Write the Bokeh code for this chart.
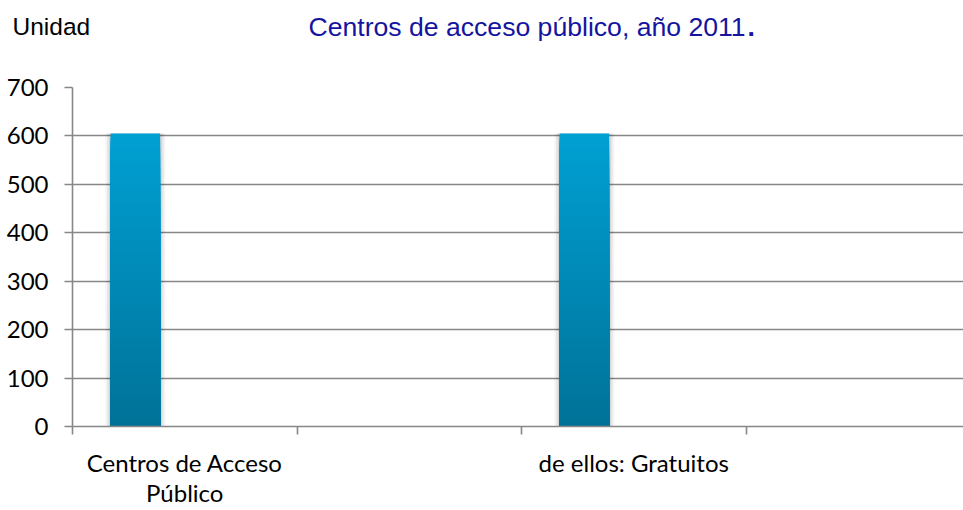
import numpy as np
from bokeh.plotting import figure
from bokeh.layouts import column
from bokeh.models import Range1d, FixedTicker
from bokeh.core.properties import value
from bokeh.embed import file_html
from bokeh.resources import INLINE

# ---- data ----
categories = ["Centros de Acceso\nPúblico", "", "de ellos: Gratuitos", ""]
values = [605, None, 605, None]
y_ticks = [0, 100, 200, 300, 400, 500, 600, 700]
title_text = "Centros de acceso público, año 2011"
unit_text = "Unidad"

# ---- style / layout ----
GRID = "#878787"
TOP_RGB = (0, 160, 211)
BOT_RGB = (0, 114, 152)
LABEL_FONT = "Lato"
TITLE_FONT = "Liberation Sans"
TITLE_COLOR = "#1414A0"

W, H = 963, 510
FL = 72                 # left border of plotting frame
HH = 50                 # header height
HM = H - HH             # main chart height
HM_TOP, HM_FRAME = 37, 339
HM_BOT = HM - HM_TOP - HM_FRAME
n_slots = len(categories)
px_per_slot = 224.5

# ---- header: unit + title ----
header = figure(width=W, height=HH, output_backend="svg", toolbar_location=None,
                x_axis_type=None, y_axis_type=None, x_range=Range1d(0, W),
                y_range=Range1d(0, HH), min_border_left=0, min_border_right=0,
                min_border_top=0, min_border_bottom=0)
if "frame_align" in header.properties():
    header.frame_align = False
header.outline_line_color = None
header.xgrid.grid_line_color = None
header.ygrid.grid_line_color = None
header.text(x=[12], y=[24], text=[unit_text], text_font=value(TITLE_FONT),
            text_font_size="24.5px", text_color="black", text_baseline="alphabetic",
            text_align="left")
header.text(x=[308], y=[24], text=[title_text], text_font=value(TITLE_FONT),
            text_font_size="26.6px", text_color=TITLE_COLOR, text_baseline="alphabetic",
            text_align="left")
header.text(x=[747], y=[24], text=["."], text_font=value(TITLE_FONT),
            text_font_size="26.6px", text_font_style="bold", text_color=TITLE_COLOR,
            text_baseline="alphabetic", text_align="left")

# ---- main chart ----
p = figure(width=W, height=HM, output_backend="svg", toolbar_location=None,
           x_range=Range1d(0, (W - FL) / px_per_slot), y_range=Range1d(0, 700),
           min_border_left=FL, min_border_right=0, min_border_top=HM_TOP,
           min_border_bottom=HM_BOT)
p.outline_line_color = None

bar_offset = 0.28
bar_w = 0.22
nseg = 120
for i, v in enumerate(values):
    if v is None:
        continue
    cx = i + bar_offset
    for k, a in [(0.024, 0.04), (0.016, 0.06), (0.008, 0.08)]:
        p.quad(left=[cx - bar_w / 2 - k], right=[cx + bar_w / 2 + k],
               bottom=[0], top=[v], fill_color="#000000", fill_alpha=a,
               line_color=None)
    # gradient: overlapping slabs from the full height downwards (no seams)
    edges = np.linspace(0, v, nseg + 1)[1:][::-1]
    cols = []
    for k in range(nseg):
        t = 1.0 - k / (nseg - 1)
        r, g, b = (int(round(BOT_RGB[j] + (TOP_RGB[j] - BOT_RGB[j]) * t)) for j in range(3))
        cols.append("#%02x%02x%02x" % (r, g, b))
    p.quad(left=[cx - bar_w / 2] * nseg, right=[cx + bar_w / 2] * nseg,
           bottom=[0] * nseg, top=list(edges), fill_color=cols, line_color=None)

p.xgrid.grid_line_color = None
p.ygrid.grid_line_color = GRID
p.ygrid.grid_line_width = 1.6
p.ygrid.ticker = FixedTicker(ticks=y_ticks)

p.yaxis.ticker = FixedTicker(ticks=y_ticks)
p.yaxis.axis_line_color = GRID
p.yaxis.axis_line_width = 1.6
p.yaxis.major_tick_line_color = GRID
p.yaxis.major_tick_line_width = 1.6
p.yaxis.major_tick_out = 8
p.yaxis.major_tick_in = 0
p.yaxis.minor_tick_line_color = None
p.yaxis.major_label_standoff = 16
p.yaxis.major_label_text_font = LABEL_FONT
p.yaxis.major_label_text_font_size = "24px"
p.yaxis.major_label_text_color = "black"

# x axis: category labels at slot centres, tick marks at slot boundaries
centers = [i + 0.5 for i in range(n_slots)]
bounds = [i for i in range(n_slots + 1)]
p.xaxis.ticker = FixedTicker(ticks=centers, minor_ticks=bounds)
p.xaxis.major_label_overrides = {c: lab for c, lab in zip(centers, categories)}
p.xaxis.major_label_text_font = LABEL_FONT
p.xaxis.major_label_text_font_size = "24px"
p.xaxis.major_label_text_color = "black"
p.xaxis.major_label_text_line_height = 1.066
p.xaxis.major_label_standoff = 13
p.xaxis.axis_line_color = GRID
p.xaxis.axis_line_width = 1.6
p.xaxis.major_tick_line_color = None
p.xaxis.major_tick_out = 0
p.xaxis.major_tick_in = 0
p.xaxis.minor_tick_line_color = GRID
p.xaxis.minor_tick_line_width = 1.6
p.xaxis.minor_tick_out = 8
p.xaxis.minor_tick_in = 0

layout = column(header, p, spacing=0)
open("out.html", "w").write(file_html(layout, INLINE))
